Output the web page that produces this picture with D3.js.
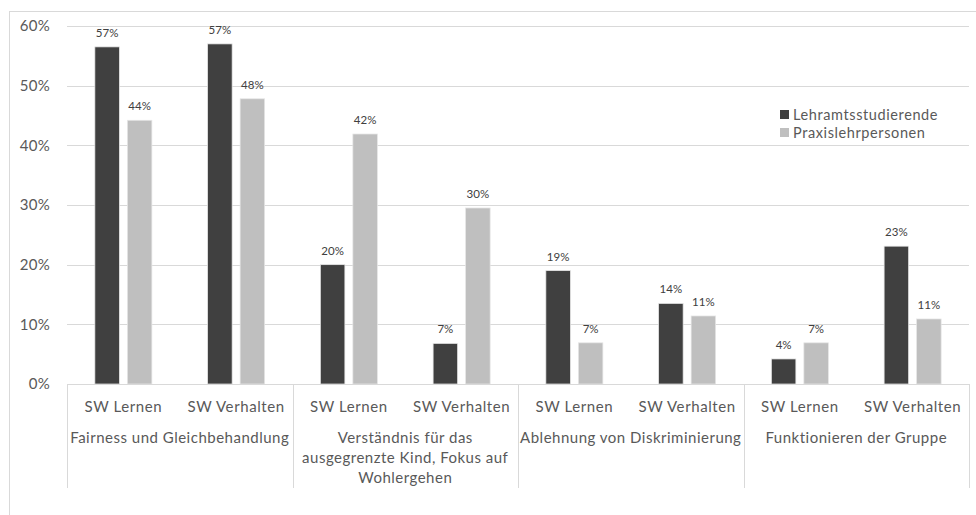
<html>
<head>
<meta charset="utf-8">
<title>SW Lernen / Verhalten</title>
<script src="https://cdnjs.cloudflare.com/ajax/libs/d3/7.8.5/d3.min.js"></script>
<style>
  body { margin: 0; background: #fff; }
  text { font-family: Lato, "Open Sans", sans-serif; fill: #595959; }
</style>
</head>
<body>
<svg id="chart" width="976" height="515"></svg>
<script>
// data
var groups = ['Fairness und Gleichbehandlung',
              'Verständnis für das ausgegrenzte Kind, Fokus auf Wohlergehen',
              'Ablehnung von Diskriminierung',
              'Funktionieren der Gruppe'];
var groupLines = [['Fairness und Gleichbehandlung'],
                  ['Verständnis für das', 'ausgegrenzte Kind, Fokus auf', 'Wohlergehen'],
                  ['Ablehnung von Diskriminierung'],
                  ['Funktionieren der Gruppe']];
var subs = ['SW Lernen', 'SW Verhalten'];
var series = ['Lehramtsstudierende', 'Praxislehrpersonen'];
var colors = ['#404040', '#bfbfbf'];
// one row per group, [Lernen, Verhalten]
var studierende = [[56.5, 57.0], [20.0, 6.8], [19.0, 13.5], [4.2, 23.1]];
var praxis      = [[44.2, 47.8], [41.9, 29.5], [6.9, 11.4], [6.9, 10.9]];
var yTicks = [0, 10, 20, 30, 40, 50, 60];

var svg = d3.select('#chart');
var plotLeft = 67, plotRight = 969, plotTop = 26, plotBottom = 384;

// outer frame
svg.append('rect').attr('x', 9.5).attr('y', 11.5).attr('width', 980).attr('height', 520)
    .attr('fill', 'none').attr('stroke', '#d9d9d9');

var y = d3.scaleLinear().domain([0, 60]).range([plotBottom, plotTop]);
var x0 = d3.scaleBand().domain(groups).range([plotLeft, plotRight]);
var x1 = d3.scaleBand().domain(subs).range([0, x0.bandwidth()]);
var x2 = d3.scaleBand().domain(series).range([0, x1.bandwidth()])
    .paddingInner(0.246).paddingOuter(0.857);

// gridlines
svg.append('g').selectAll('line').data(yTicks.slice(1)).enter().append('line')
    .attr('x1', plotLeft).attr('x2', plotRight)
    .attr('y1', function (d) { return Math.round(y(d)) + 0.5; })
    .attr('y2', function (d) { return Math.round(y(d)) + 0.5; })
    .attr('stroke', '#d9d9d9');

// y axis labels
var yAxis = d3.axisLeft(y).tickValues(yTicks).tickSize(0).tickPadding(0)
    .tickFormat(function (d) { return d + '%'; });
var yg = svg.append('g').attr('transform', 'translate(50,0)').call(yAxis);
yg.select('.domain').remove();
yg.selectAll('text').attr('font-size', 15).attr('font-family', null)
    .attr('letter-spacing', 0.3).attr('fill', '#595959');

// bars
var rows = [];
groups.forEach(function (g, gi) {
    subs.forEach(function (s, si) {
        rows.push({ g: g, s: s, ser: series[0], v: studierende[gi][si], c: colors[0] });
        rows.push({ g: g, s: s, ser: series[1], v: praxis[gi][si], c: colors[1] });
    });
});
function bx(d) { return x0(d.g) + x1(d.s) + x2(d.ser); }

svg.append('g').selectAll('rect').data(rows).enter().append('rect')
    .attr('x', bx)
    .attr('y', function (d) { return y(d.v); })
    .attr('width', x2.bandwidth())
    .attr('height', function (d) { return plotBottom - y(d.v); })
    .attr('fill', function (d) { return d.c; })
    .attr('stroke', '#e6e6e6').attr('stroke-width', 0.75);

svg.append('g').selectAll('text').data(rows).enter().append('text')
    .attr('x', function (d) { return bx(d) + x2.bandwidth() / 2; })
    .attr('y', function (d) { return y(d.v) - 10; })
    .attr('text-anchor', 'middle').attr('font-size', 11.5)
    .style('fill', '#404040')
    .text(function (d) { return Math.round(d.v) + '%'; });

// category axis: baseline + group separators
svg.append('line').attr('x1', plotLeft).attr('x2', plotRight)
    .attr('y1', plotBottom + 0.5).attr('y2', plotBottom + 0.5).attr('stroke', '#d9d9d9');
var seps = groups.map(function (g) { return x0(g); }).concat([plotRight]);
svg.append('g').selectAll('line').data(seps).enter().append('line')
    .attr('x1', function (d) { return Math.round(d) + 0.5; })
    .attr('x2', function (d) { return Math.round(d) + 0.5; })
    .attr('y1', plotBottom).attr('y2', 488)
    .attr('stroke', '#d9d9d9');

// sub labels
groups.forEach(function (g) {
    svg.append('g').selectAll('text').data(subs).enter().append('text')
        .attr('x', function (s) { return x0(g) + x1(s) + x1.bandwidth() / 2; })
        .attr('y', 412)
        .attr('text-anchor', 'middle').attr('font-size', 15).attr('letter-spacing', 0.6)
        .text(function (s) { return s; });
});

// group labels
groups.forEach(function (g, gi) {
    var t = svg.append('text').attr('text-anchor', 'middle').attr('font-size', 15)
        .attr('letter-spacing', 0.5);
    t.selectAll('tspan').data(groupLines[gi]).enter().append('tspan')
        .attr('x', x0(g) + x0.bandwidth() / 2)
        .attr('y', function (d, i) { return 443 + i * 20; })
        .text(function (d) { return d; });
});

// legend
var lg = svg.append('g').attr('transform', 'translate(780,110)');
series.forEach(function (s, i) {
    lg.append('rect').attr('x', 0).attr('y', i * 18).attr('width', 9).attr('height', 9)
        .attr('fill', colors[i]);
    lg.append('text').attr('x', 13).attr('y', i * 18 + 9.5).attr('font-size', 14.5)
        .attr('letter-spacing', 0.6)
        .text(s);
});
</script>
</body>
</html>
